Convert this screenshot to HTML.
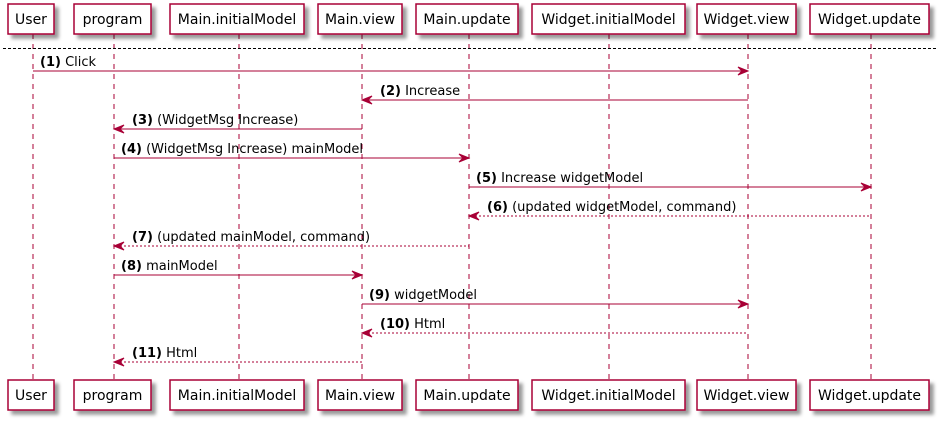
<!DOCTYPE html>
<html><head><meta charset="utf-8"><style>
html,body{margin:0;padding:0;background:#fff;}
svg{display:block;}
text{font-family:"DejaVu Sans","Liberation Sans",sans-serif;fill:#000;}
</style></head><body>
<svg width="948" height="421" xmlns="http://www.w3.org/2000/svg">
<defs>
<filter id="sh" x="-20%" y="-20%" width="150%" height="160%"><feGaussianBlur in="SourceAlpha" stdDeviation="1.8"/><feOffset dx="4" dy="4"/><feComponentTransfer><feFuncA type="linear" slope="0.4"/></feComponentTransfer><feMerge><feMergeNode/><feMergeNode in="SourceGraphic"/></feMerge></filter>
</defs>
<g stroke="#A80036" stroke-width="1" stroke-dasharray="5,5">
<line x1="33" y1="34" x2="33" y2="379"/>
<line x1="114" y1="34" x2="114" y2="379"/>
<line x1="239" y1="34" x2="239" y2="379"/>
<line x1="362" y1="34" x2="362" y2="379"/>
<line x1="469" y1="34" x2="469" y2="379"/>
<line x1="609" y1="34" x2="609" y2="379"/>
<line x1="748" y1="34" x2="748" y2="379"/>
<line x1="871" y1="34" x2="871" y2="379"/>
</g>
<line x1="3" y1="48.5" x2="937" y2="48.5" stroke="#000" stroke-dasharray="3,2"/>
<g fill="#fff" stroke="#A80036" stroke-width="1.5" filter="url(#sh)">
<rect x="8" y="4" width="46" height="30"/><rect x="74" y="4" width="77" height="30"/><rect x="170" y="4" width="134" height="30"/><rect x="318" y="4" width="84" height="30"/><rect x="416" y="4" width="102" height="30"/><rect x="532" y="4" width="153" height="30"/><rect x="697" y="4" width="99" height="30"/><rect x="810" y="4" width="119" height="30"/>
<rect x="8" y="380" width="46" height="30"/><rect x="74" y="380" width="77" height="30"/><rect x="170" y="380" width="134" height="30"/><rect x="318" y="380" width="84" height="30"/><rect x="416" y="380" width="102" height="30"/><rect x="532" y="380" width="153" height="30"/><rect x="697" y="380" width="99" height="30"/><rect x="810" y="380" width="119" height="30"/>
</g>
<g font-size="14" text-anchor="middle">
<text x="31" y="24">User</text><text x="112.5" y="24">program</text><text x="237" y="24">Main.initialModel</text><text x="360" y="24">Main.view</text><text x="467" y="24">Main.update</text><text x="608.5" y="24">Widget.initialModel</text><text x="746.5" y="24">Widget.view</text><text x="869.5" y="24">Widget.update</text>
<text x="31" y="400">User</text><text x="112.5" y="400">program</text><text x="237" y="400">Main.initialModel</text><text x="360" y="400">Main.view</text><text x="467" y="400">Main.update</text><text x="608.5" y="400">Widget.initialModel</text><text x="746.5" y="400">Widget.view</text><text x="869.5" y="400">Widget.update</text>
</g>
<g stroke="#A80036" stroke-width="1">
<line x1="33" y1="71" x2="746" y2="71"/>
<line x1="364" y1="100" x2="748" y2="100"/>
<line x1="116" y1="129" x2="362" y2="129"/>
<line x1="114" y1="158" x2="467" y2="158"/>
<line x1="469" y1="187" x2="869" y2="187"/>
<line x1="471" y1="216" x2="871" y2="216" stroke-dasharray="2,2"/>
<line x1="116" y1="246" x2="469" y2="246" stroke-dasharray="2,2"/>
<line x1="114" y1="275" x2="360" y2="275"/>
<line x1="362" y1="304" x2="746" y2="304"/>
<line x1="364" y1="333" x2="748" y2="333" stroke-dasharray="2,2"/>
<line x1="116" y1="362" x2="362" y2="362" stroke-dasharray="2,2"/>
</g>
<g fill="#A80036" stroke="#A80036" stroke-width="1">
<polygon points="748,71 738,67 742,71 738,75"/>
<polygon points="362,100 372,96 368,100 372,104"/>
<polygon points="114,129 124,125 120,129 124,133"/>
<polygon points="469,158 459,154 463,158 459,162"/>
<polygon points="871,187 861,183 865,187 861,191"/>
<polygon points="469,216 479,212 475,216 479,220"/>
<polygon points="114,246 124,242 120,246 124,250"/>
<polygon points="362,275 352,271 356,275 352,279"/>
<polygon points="748,304 738,300 742,304 738,308"/>
<polygon points="362,333 372,329 368,333 372,337"/>
<polygon points="114,362 124,358 120,362 124,366"/>
</g>
<g font-size="13">
<text x="40" y="66"><tspan font-weight="bold">(1)</tspan> Click</text>
<text x="380" y="95"><tspan font-weight="bold">(2)</tspan> Increase</text>
<text x="132" y="124"><tspan font-weight="bold">(3)</tspan> (WidgetMsg Increase)</text>
<text x="121" y="153"><tspan font-weight="bold">(4)</tspan> (WidgetMsg Increase) mainModel</text>
<text x="476" y="182"><tspan font-weight="bold">(5)</tspan> Increase widgetModel</text>
<text x="487" y="211"><tspan font-weight="bold">(6)</tspan> (updated widgetModel, command)</text>
<text x="132" y="241"><tspan font-weight="bold">(7)</tspan> (updated mainModel, command)</text>
<text x="121" y="270"><tspan font-weight="bold">(8)</tspan> mainModel</text>
<text x="369" y="299"><tspan font-weight="bold">(9)</tspan> widgetModel</text>
<text x="380" y="328"><tspan font-weight="bold">(10)</tspan> Html</text>
<text x="132" y="357"><tspan font-weight="bold">(11)</tspan> Html</text>
</g>
</svg>
</body></html>
